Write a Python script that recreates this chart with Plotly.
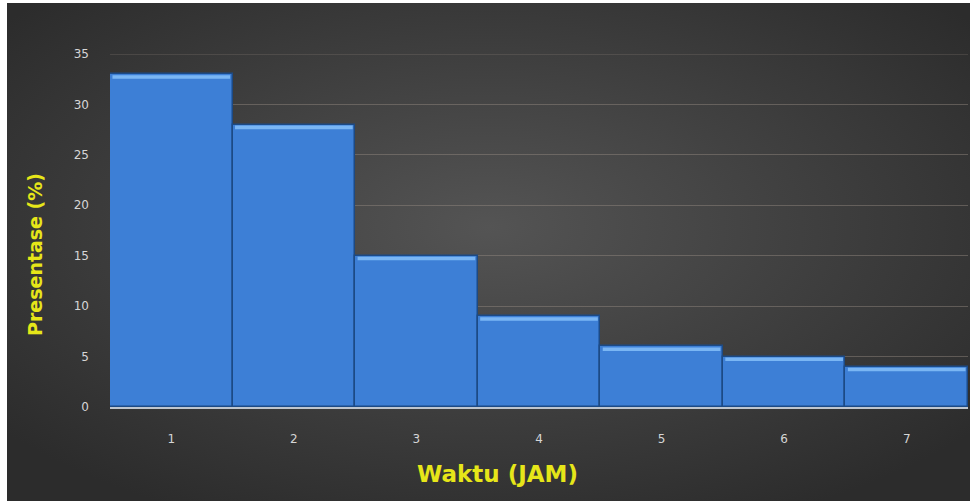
import plotly.graph_objects as go

categories = ["1", "2", "3", "4", "5", "6", "7"]
values = [33, 28, 15, 9, 6, 5, 4]
y_ticks = [0, 5, 10, 15, 20, 25, 30, 35]

W, H = 970, 501
L, R, T, B = 110, 2, 54, 94
pw, ph = W - L - R, H - T - B

svg = (
    "<svg xmlns='http://www.w3.org/2000/svg' width='970' height='501'>"
    "<defs><radialGradient id='g' cx='50%' cy='45%' r='65%'>"
    "<stop offset='0%' stop-color='%23545454'/>"
    "<stop offset='100%' stop-color='%232c2c2c'/>"
    "</radialGradient></defs>"
    "<rect x='0' y='0' width='970' height='501' fill='white'/>"
    "<rect x='7' y='3' width='963' height='498' fill='url(%23g)'/>"
    "</svg>"
)
bg_uri = "data:image/svg+xml;utf8," + svg

fig = go.Figure()
fig.add_trace(go.Bar(
    x=categories, y=values,
    marker=dict(color="#3d7fd6", line=dict(color="#1c4a85", width=1.5)),
    width=1.0,
))

# bevel highlight at the top of each bar (derived from data)
shapes = []
for i, v in enumerate(values):
    shapes.append(dict(
        type="rect", xref="x", yref="y",
        x0=i - 0.48, x1=i + 0.48, y0=v - 0.45, y1=v - 0.1,
        fillcolor="#7ab6f4", line=dict(width=0), layer="above",
    ))
# top gridline (at range edge)
shapes.append(dict(
    type="line", xref="paper", yref="y", x0=0, x1=1,
    y0=y_ticks[-1], y1=y_ticks[-1],
    line=dict(color="rgba(150,140,130,0.45)", width=1), layer="below",
))

fig.update_layout(
    width=W, height=H,
    margin=dict(l=L, r=R, t=T, b=B),
    paper_bgcolor="#ffffff",
    plot_bgcolor="rgba(0,0,0,0)",
    bargap=0,
    showlegend=False,
    shapes=shapes,
    images=[dict(
        source=bg_uri, xref="paper", yref="paper",
        x=-L / pw, y=1 + T / ph, sizex=W / pw, sizey=H / ph,
        xanchor="left", yanchor="top", sizing="stretch", layer="below",
    )],
    xaxis=dict(
        type="category", showgrid=False, ticks="",
        tickfont=dict(family="DejaVu Sans", size=12, color="#d6d6d6"),
        ticklabelstandoff=20,
        showline=True, linecolor="#bfc6cf", linewidth=2,
        zeroline=False,
    ),
    yaxis=dict(
        range=[0, 35], tickvals=y_ticks, ticks="",
        tickfont=dict(family="DejaVu Sans", size=12, color="#d6d6d6"),
        ticklabelstandoff=20,
        showgrid=True, gridcolor="rgba(150,140,130,0.45)", gridwidth=1,
        zeroline=False, showline=False,
    ),
    annotations=[
        dict(text="<b>Waktu (JAM)</b>", xref="paper", yref="paper",
             x=(497 - L) / pw, y=-(474 - T - ph) / ph, xanchor="center", yanchor="middle",
             showarrow=False, font=dict(family="DejaVu Sans", size=23, color="#e6e619")),
        dict(text="<b>Presentase (%)</b>", xref="paper", yref="paper",
             x=(35 - L) / pw, y=1 - (255 - T) / ph, xanchor="center", yanchor="middle",
             textangle=-90, showarrow=False,
             font=dict(family="DejaVu Sans", size=19, color="#e6e619")),
    ],
)

fig.write_html("out.html")
